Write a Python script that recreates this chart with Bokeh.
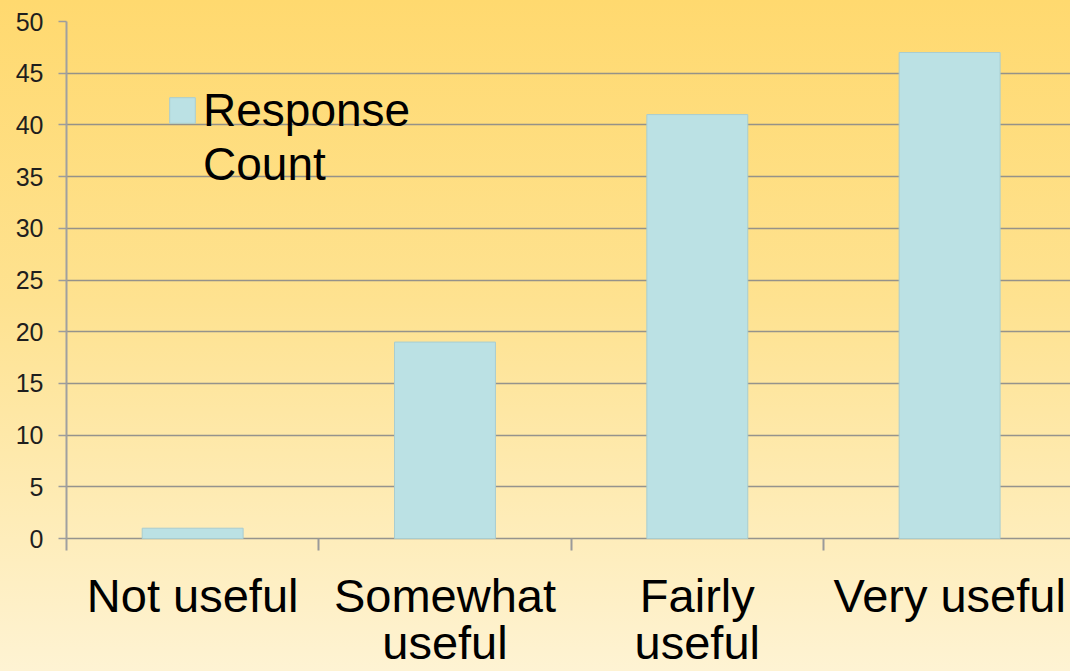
from bokeh.plotting import figure
from bokeh.models import Range1d, FixedTicker
from bokeh.embed import file_html
from bokeh.resources import INLINE

# ---- data ----
categories = ["Not useful", "Somewhat useful", "Fairly useful", "Very useful"]
tick_labels = ["Not useful", "Somewhat\nuseful", "Fairly\nuseful", "Very useful"]
counts = [1, 19, 41, 47]
series_name = "\nResponse\nCount"
y_ticks = [0, 5, 10, 15, 20, 25, 30, 35, 40, 45, 50]

xs = [i + 0.5 for i in range(len(categories))]
separators = list(range(1, len(categories)))

FONT = "Liberation Sans"

p = figure(
    width=1070, height=671,
    x_range=Range1d(0, 3.979), y_range=Range1d(-1.156, 50),
    output_backend="svg", toolbar_location=None,
    min_border_left=66, min_border_right=0, min_border_top=21, min_border_bottom=119,
    margin=0,
)
p.background_fill_alpha = 0
p.border_fill_alpha = 0
p.outline_line_color = None
p.styles = {"background": "linear-gradient(to bottom, #FFD96F 0%, #FEE290 45%, #FEF3D3 100%)"}

p.vbar(x=xs, top=counts, bottom=0, width=0.4,
       fill_color="#BBE1E4", line_color="#A9CDD0", line_width=1,
       legend_label=series_name)

# x axis
xa = p.xaxis[0]
xa.ticker = FixedTicker(ticks=xs, minor_ticks=separators)
xa.major_label_overrides = {x: lab for x, lab in zip(xs, tick_labels)}
xa.axis_line_color = None
xa.major_tick_in = 0
xa.major_tick_out = 0
xa.minor_tick_in = 12
xa.minor_tick_out = 0
xa.minor_tick_line_color = "#9A9A9A"
xa.minor_tick_line_width = 2
xa.major_label_standoff = 18
xa.major_label_text_font = FONT
xa.major_label_text_font_size = "47px"
xa.major_label_text_color = "#000000"
xa.major_label_text_line_height = 0.89
p.xgrid.visible = False

# y axis
ya = p.yaxis[0]
ya.ticker = FixedTicker(ticks=y_ticks, minor_ticks=[])
ya.axis_line_color = "#A0A0A0"
ya.axis_line_width = 2
ya.major_tick_in = 0
ya.major_tick_out = 8
ya.major_tick_line_color = "#9C9C9C"
ya.major_tick_line_width = 1.5
ya.minor_tick_line_color = None
ya.major_label_standoff = 15
ya.major_label_text_font = FONT
ya.major_label_text_font_size = "25px"
ya.major_label_text_color = "#1E1E1E"
p.ygrid.ticker = FixedTicker(ticks=y_ticks, minor_ticks=[])
p.ygrid.grid_line_color = "#8A8A8A"
p.ygrid.grid_line_alpha = 0.9
p.ygrid.grid_line_width = 1.5

# legend
lg = p.legend[0]
lg.location = (100, 359)
lg.background_fill_alpha = 0
lg.border_line_color = None
lg.padding = 0
lg.margin = 0
lg.spacing = 0
lg.glyph_width = 32
lg.glyph_height = 32
lg.label_standoff = 5
lg.label_text_font = FONT
lg.label_text_font_size = "46px"
lg.label_text_color = "#000000"
lg.label_text_line_height = 1.2

open("out.html", "w").write(file_html(p, INLINE))
